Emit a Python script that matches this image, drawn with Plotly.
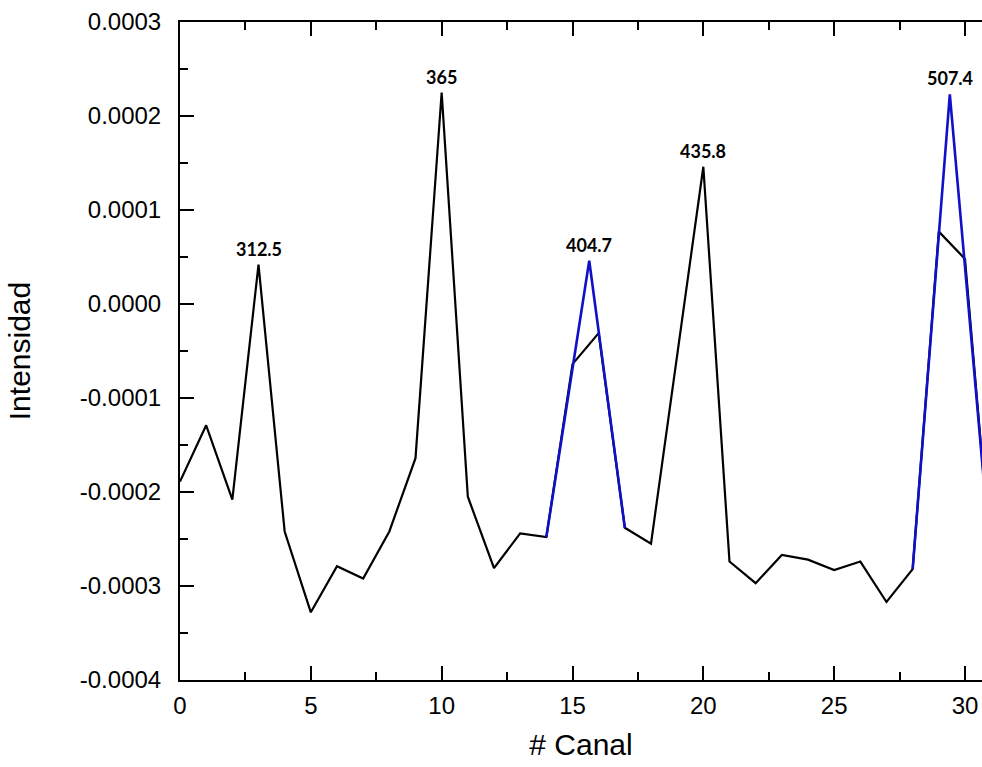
import plotly.graph_objects as go

# Data (intensity in units)
canal = list(range(0, 32))
intensidad = [-1.89e-4, -1.29e-4, -2.08e-4, 0.42e-4, -2.42e-4, -3.28e-4, -2.79e-4, -2.92e-4,
              -2.42e-4, -1.64e-4, 2.25e-4, -2.05e-4, -2.81e-4, -2.44e-4, -2.48e-4, -0.64e-4,
              -0.31e-4, -2.38e-4, -2.55e-4, -0.55e-4, 1.46e-4, -2.74e-4, -2.97e-4, -2.67e-4,
              -2.72e-4, -2.83e-4, -2.74e-4, -3.17e-4, -2.82e-4, 0.77e-4, 0.48e-4, -2.77e-4]

fit1_x = [14, 15.64, 17]
fit1_y = [-2.48e-4, 0.46e-4, -2.38e-4]
fit2_x = [28, 29.42, 31]
fit2_y = [-2.82e-4, 2.23e-4, -2.77e-4]

peak_x = [3, 10, 15.64, 20, 29.42]
peak_y = [0.42e-4, 2.25e-4, 0.46e-4, 1.46e-4, 2.23e-4]
peak_labels = ["312.5", "365", "404.7", "435.8", "507.4"]

y_tickvals = [0.0003, 0.0002, 0.0001, 0.0, -0.0001, -0.0002, -0.0003, -0.0004]
y_ticktext = ["0.0003", "0.0002", "0.0001", "0.0000", "-0.0001", "-0.0002", "-0.0003", "-0.0004"]
x_tickvals = [0, 5, 10, 15, 20, 25, 30]

fig = go.Figure()
fig.add_trace(go.Scatter(x=canal, y=intensidad, mode="lines",
                         line=dict(color="black", width=2.2), showlegend=False))
fig.add_trace(go.Scatter(x=fit1_x, y=fit1_y, mode="lines",
                         line=dict(color="#1010C8", width=2.6), showlegend=False))
fig.add_trace(go.Scatter(x=fit2_x, y=fit2_y, mode="lines",
                         line=dict(color="#1010C8", width=2.6), showlegend=False))

for px, py, lab in zip(peak_x, peak_y, peak_labels):
    fig.add_annotation(x=px, y=py, text="<b>" + lab + "</b>", showarrow=False,
                       yanchor="bottom", yshift=3,
                       font=dict(family="Lato", size=18, color="black"))

axis_font = dict(family="Liberation Sans", size=24, color="black")
fig.update_layout(
    width=982, height=767,
    margin=dict(l=180, r=0, t=22, b=87),
    paper_bgcolor="white", plot_bgcolor="white",
    xaxis=dict(range=[0, 30.65], tickvals=x_tickvals, ticks="inside", ticklen=14,
               tickwidth=2, tickcolor="black", showline=True, linecolor="black",
               linewidth=2, mirror="ticks", showgrid=False, zeroline=False,
               tickfont=axis_font, ticklabelstandoff=3,
               minor=dict(dtick=2.5, tick0=0, ticks="inside", ticklen=8, tickwidth=2,
                          tickcolor="black", showgrid=False),
               title=dict(text="# Canal", font=dict(family="Liberation Sans", size=30,
                                                    color="black"), standoff=16)),
    yaxis=dict(range=[-0.0004, 0.0003], tickvals=y_tickvals, ticktext=y_ticktext,
               ticks="inside", ticklen=14, tickwidth=2, tickcolor="black",
               showline=True, linecolor="black", linewidth=2, showgrid=False,
               zeroline=False, tickfont=axis_font, ticklabelstandoff=12,
               minor=dict(dtick=0.00005, tick0=0, ticks="inside", ticklen=8, tickwidth=2,
                          tickcolor="black", showgrid=False),
               title=dict(text="Intensidad", font=dict(family="Liberation Sans", size=30,
                                                       color="black"), standoff=40)),
)

fig.write_html("out.html")
